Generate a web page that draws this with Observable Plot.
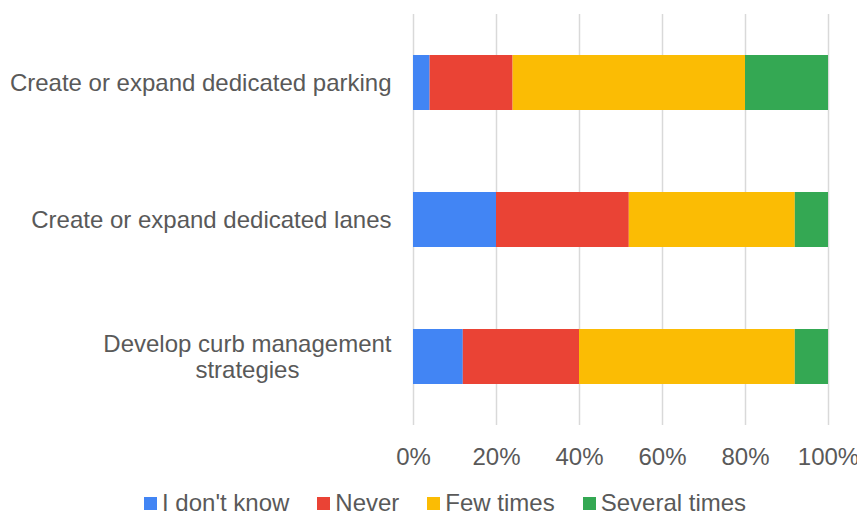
<!DOCTYPE html>
<html>
<head>
<meta charset="utf-8">
<script src="https://cdn.jsdelivr.net/npm/d3@7"></script>
<script src="https://cdn.jsdelivr.net/npm/@observablehq/plot@0.6"></script>
<style>
  body { margin: 0; background: #fff; font-family: "Liberation Sans", Arial, sans-serif; overflow: hidden; }
  #legend { display: flex; align-items: center; height: 24px; padding-left: 144px; font-size: 24px; color: #595959; line-height: 24px; }
  #legend .item { display: flex; align-items: center; margin-right: 28px; }
  #legend .sw { width: 13px; height: 13px; margin-right: 5px; }
</style>
</head>
<body>
<div id="chart"></div>
<div id="legend"></div>
<script>
const categories = [
  "Create or expand dedicated parking",
  "Create or expand dedicated lanes",
  "Develop curb management strategies"
];
const series = ["I don't know", "Never", "Few times", "Several times"];
const colors = ["#4285F4", "#EA4335", "#FBBC04", "#34A853"];
// percentages per series, in category order
const dontKnow = [4, 20, 12];
const never = [20, 32, 28];
const fewTimes = [56, 40, 52];
const severalTimes = [20, 8, 8];
const xTicks = [0, 20, 40, 60, 80, 100];

const valuesBySeries = [dontKnow, never, fewTimes, severalTimes];
const rows = [];
categories.forEach((c, ci) => {
  series.forEach((s, si) => rows.push({category: c, series: s, value: valuesBySeries[si][ci]}));
});

const chart = Plot.plot({
  width: 857,
  height: 491,
  marginTop: 14,
  marginBottom: 66,
  marginLeft: 413,
  marginRight: 29,
  style: { fontFamily: '"Liberation Sans", Arial, sans-serif', fontSize: "24px", color: "#595959", background: "#fff", overflow: "visible" },
  x: { domain: [0, 100], ticks: xTicks, label: null },
  y: { domain: categories, paddingInner: 0.6, paddingOuter: 0.3, label: null },
  color: { domain: series, range: colors },
  marks: [
    Plot.gridX(xTicks, { stroke: "#d9d9d9", strokeOpacity: 1, strokeWidth: 1.5 }),
    Plot.barX(rows, Plot.stackX({ x: "value", y: "category", fill: "series", order: null })),
    Plot.axisX({ ticks: xTicks, tickSize: 0, tickPadding: 22, tickFormat: d => d + "%", fontSize: 24, fill: "#595959", label: null }),
    Plot.axisY({ tickSize: 0, tickPadding: 22, fontSize: 24, fill: "#595959", lineHeight: 1.05, label: null,
      tickFormat: d => d.replace("management ", "management\n") })
  ]
});
document.getElementById("chart").appendChild(chart);

// center multi-line y tick labels within their block (right-aligned block)
chart.querySelectorAll('g[aria-label="y-axis tick label"] text').forEach(t => {
  const spans = t.querySelectorAll("tspan");
  if (spans.length > 1) {
    let maxW = 0;
    spans.forEach(s => { maxW = Math.max(maxW, s.getComputedTextLength()); });
    t.setAttribute("text-anchor", "middle");
    spans.forEach(s => s.setAttribute("x", -maxW / 2));
  }
});

const legend = document.getElementById("legend");
series.forEach((s, i) => {
  const item = document.createElement("div");
  item.className = "item";
  const sw = document.createElement("div");
  sw.className = "sw";
  sw.style.background = colors[i];
  const lab = document.createElement("span");
  lab.textContent = s;
  item.appendChild(sw);
  item.appendChild(lab);
  legend.appendChild(item);
});
</script>
</body>
</html>
